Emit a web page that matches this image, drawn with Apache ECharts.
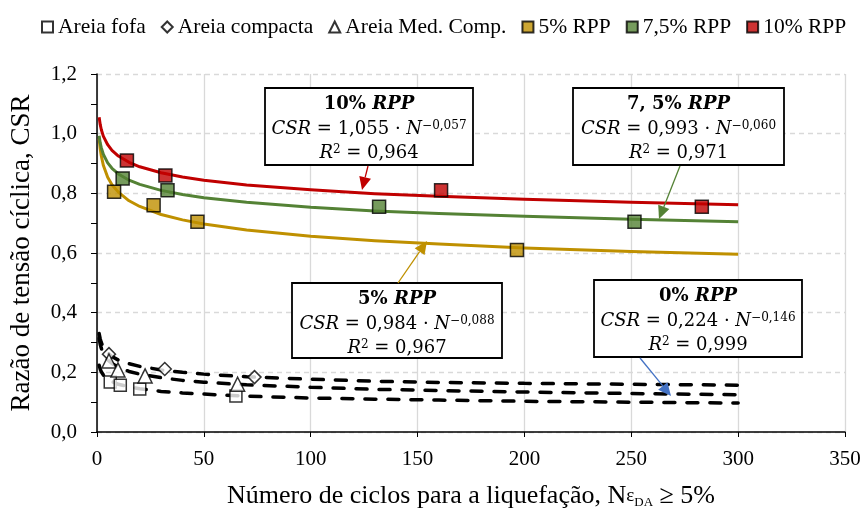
<!DOCTYPE html>
<html><head><meta charset="utf-8">
<script src="https://cdn.jsdelivr.net/npm/echarts@6/dist/echarts.min.js"></script>
<style>html,body{margin:0;padding:0;background:#fff}#c{width:865px;height:514px}</style>
</head><body><div id="c"></div>
<script>
// ---- data ----
const curveN  = [1, 1.5, 2, 3, 5, 7, 10, 15, 20, 30, 40, 50, 70, 100, 130, 160, 200, 250, 300];
const fit10   = [1.055, 1.031, 1.014, 0.991, 0.963, 0.944, 0.925, 0.904, 0.889, 0.869, 0.855, 0.844, 0.828, 0.812, 0.799, 0.790, 0.780, 0.770, 0.762];
const fit75   = [0.993, 0.969, 0.953, 0.930, 0.902, 0.884, 0.865, 0.844, 0.830, 0.810, 0.796, 0.785, 0.770, 0.753, 0.741, 0.732, 0.723, 0.713, 0.705];
const fit5    = [0.984, 0.949, 0.926, 0.893, 0.854, 0.829, 0.804, 0.775, 0.756, 0.729, 0.711, 0.697, 0.677, 0.656, 0.641, 0.630, 0.617, 0.605, 0.596];
const fitFofa = [0.224, 0.211, 0.202, 0.191, 0.177, 0.169, 0.160, 0.151, 0.145, 0.136, 0.131, 0.127, 0.120, 0.114, 0.110, 0.107, 0.103, 0.100, 0.097];
const fitMed  = [0.314, 0.294, 0.281, 0.263, 0.242, 0.230, 0.217, 0.203, 0.194, 0.182, 0.173, 0.167, 0.158, 0.150, 0.143, 0.139, 0.134, 0.129, 0.125];
const fitComp = [0.330, 0.312, 0.300, 0.284, 0.265, 0.253, 0.241, 0.229, 0.220, 0.208, 0.200, 0.194, 0.185, 0.177, 0.170, 0.166, 0.163, 0.160, 0.157];

const fofaN = [6.2, 10.9, 20, 65];      const fofaCSR = [0.168, 0.157, 0.144, 0.121];
const compN = [5.6, 31.7, 73.7];        const compCSR = [0.261, 0.211, 0.184];
const medN  = [5.6, 9.8, 22.5, 65.8];   const medCSR  = [0.238, 0.208, 0.188, 0.160];
const rpp5N  = [8, 26.5, 47, 196.5];    const rpp5CSR  = [0.805, 0.760, 0.705, 0.610];
const rpp75N = [12, 33, 132, 251.5];    const rpp75CSR = [0.850, 0.810, 0.755, 0.705];
const rpp10N = [14, 32, 161, 283];      const rpp10CSR = [0.910, 0.860, 0.810, 0.755];

const legendNames = ['Areia fofa', 'Areia compacta', 'Areia Med. Comp.', '5% RPP', '7,5% RPP', '10% RPP'];
const boxTitles = ['10% ', '7, 5% ', '5% ', '0% '];
const boxCoefs  = ['1,055', '0,993', '0,984', '0,224'];
const boxExps   = ['−0,057', '−0,060', '−0,088', '−0,146'];
const boxR2     = ['0,964', '0,971', '0,967', '0,999'];

const C5 = '#BF9000', C75 = '#548235', C10 = '#C00000', CB = '#4472C4';
const pair = (xs, ys) => xs.map((x, i) => [x, ys[i]]);
const SERIF = '"Liberation Serif", "Times New Roman", serif';
const MATH = '"DejaVu Serif", serif';

const chart = echarts.init(document.getElementById('c'), null, {renderer: 'canvas'});

function curve(data, color, dashed) {
  return {
    type: 'line', data: pair(curveN, data), showSymbol: false, symbol: 'none',
    smooth: false, silent: true, z: 2,
    lineStyle: dashed ? {color: '#000', width: 3.5, type: [11, 12], cap: 'round'} : {color: color, width: 3, join: 'round'},
    legendHoverLink: false
  };
}
function pts(name, data, symbol, size, fill) {
  return {
    name: name, type: 'scatter', data: data, symbol: symbol, symbolSize: size, z: 5,
    itemStyle: {color: fill, borderColor: '#000', borderWidth: 1.5}
  };
}

function box(i, left, top, w, h) {
  const cx = left + w / 2;
  const st = {
    b: {fontFamily: MATH, fontSize: 18, fontWeight: 'bold', fill: '#000'},
    bi: {fontFamily: MATH, fontSize: 18, fontWeight: 'bold', fontStyle: 'italic', fill: '#000'},
    i: {fontFamily: MATH, fontSize: 18, fontStyle: 'italic', fill: '#000'},
    n: {fontFamily: MATH, fontSize: 18, fill: '#000'},
    s: {fontFamily: MATH, fontSize: 12, fill: '#000', verticalAlign: 'top'}
  };
  return [
    {type: 'rect', shape: {x: left, y: top, width: w, height: h}, style: {fill: '#fff', stroke: '#000', lineWidth: 1.8}, z: 20},
    {type: 'text', x: cx, y: top + 16, z: 21, style: {text: '{b|' + boxTitles[i] + '}{bi|RPP}', align: 'center', verticalAlign: 'middle', rich: st}},
    {type: 'text', x: cx, y: top + 41, z: 21, style: {text: '{i|CSR}{n| = ' + boxCoefs[i] + ' · }{i|N}{s|' + boxExps[i] + '}', align: 'center', verticalAlign: 'middle', rich: st}},
    {type: 'text', x: cx, y: top + 65, z: 21, style: {text: '{i|R}{s|2}{n| = ' + boxR2[i] + '}', align: 'center', verticalAlign: 'middle', rich: st}}
  ];
}
function arrow(x1, y1, x2, y2, color) {
  const a = Math.atan2(y2 - y1, x2 - x1), L = 13, W = 6;
  const bx = x2 - L * Math.cos(a), by = y2 - L * Math.sin(a);
  const px = -Math.sin(a) * W, py = Math.cos(a) * W;
  return [
    {type: 'line', shape: {x1: x1, y1: y1, x2: bx, y2: by}, style: {stroke: color, lineWidth: 1.3}, z: 22},
    {type: 'polygon', shape: {points: [[x2, y2], [bx + px, by + py], [bx - px, by - py]]}, style: {fill: color}, z: 22}
  ];
}

const option = {
  animation: false,
  backgroundColor: '#fff',
  grid: {left: 95, right: 20, top: 74, bottom: 81, containLabel: false},
  legend: {
    top: 11, left: 36, itemGap: 15, itemWidth: 11, itemHeight: 11,
    data: [
      {name: legendNames[0], icon: 'rect'},
      {name: legendNames[1], icon: 'diamond'},
      {name: legendNames[2], icon: 'triangle'},
      {name: legendNames[3], icon: 'rect'},
      {name: legendNames[4], icon: 'rect'},
      {name: legendNames[5], icon: 'rect'}
    ],
    textStyle: {fontFamily: SERIF, fontSize: 21.5, color: '#000', padding: [0, 0, 0, 0]}
  },
  xAxis: {
    type: 'value', min: 0, max: 350, interval: 50,
    axisLine: {show: true, lineStyle: {color: '#000', width: 1.5}},
    axisTick: {show: true, length: 5, lineStyle: {color: '#000'}},
    axisLabel: {fontFamily: SERIF, fontSize: 21, color: '#000', margin: 17},
    splitLine: {show: true, lineStyle: {color: '#d9d9d9', width: 1.3}},
    name: '{t|Número de ciclos para a liquefação, N}{e|ε}{d|DA}{t| ≥ 5%}',
    nameLocation: 'middle', nameGap: 51,
    nameTextStyle: {rich: {
      t: {fontFamily: SERIF, fontSize: 26, color: '#000'},
      e: {fontFamily: SERIF, fontSize: 19, color: '#000'},
      d: {fontFamily: SERIF, fontSize: 13, color: '#000', verticalAlign: 'bottom', padding: [8, 0, 0, 0]}
    }}
  },
  yAxis: {
    type: 'value', min: 0, max: 1.2, interval: 0.2,
    axisLine: {show: true, lineStyle: {color: '#000', width: 1.5}},
    axisTick: {show: true, length: 6, lineStyle: {color: '#000'}},
    minorTick: {show: true, splitNumber: 2, length: 6, lineStyle: {color: '#000'}},
    axisLabel: {fontFamily: SERIF, fontSize: 21, color: '#000', margin: 20,
      formatter: v => v.toFixed(1).replace('.', ',')},
    splitLine: {show: true, lineStyle: {color: '#d9d9d9', width: 1.3, type: [5, 4]}},
    name: 'Razão de tensão cíclica, CSR', nameLocation: 'middle', nameGap: 62,
    nameTextStyle: {fontFamily: SERIF, fontSize: 27, color: '#000'}
  },
  series: [
    curve(fitComp, '#000', true),
    curve(fitMed, '#000', true),
    curve(fitFofa, '#000', true),
    curve(fit5, C5, false),
    curve(fit75, C75, false),
    curve(fit10, C10, false),
    pts(legendNames[0], pair(fofaN, fofaCSR), 'rect', 12, '#fff'),
    pts(legendNames[1], pair(compN, compCSR), 'diamond', 13, '#fff'),
    pts(legendNames[2], pair(medN, medCSR), 'triangle', 14, '#fff'),
    pts(legendNames[3], pair(rpp5N, rpp5CSR), 'rect', 13, C5),
    pts(legendNames[4], pair(rpp75N, rpp75CSR), 'rect', 13, C75),
    pts(legendNames[5], pair(rpp10N, rpp10CSR), 'rect', 13, C10)
  ],
  graphic: [].concat(
    box(0, 265, 88, 208, 77),
    box(1, 573, 88, 211, 77),
    box(2, 292, 283, 210, 75),
    box(3, 594, 280, 208, 77),
    arrow(368, 166, 362, 190, C10),
    arrow(680, 166, 659, 219, C75),
    arrow(398, 283, 427, 241, C5),
    arrow(640, 358, 671, 396, CB)
  )
};
chart.setOption(option);
</script></body></html>
